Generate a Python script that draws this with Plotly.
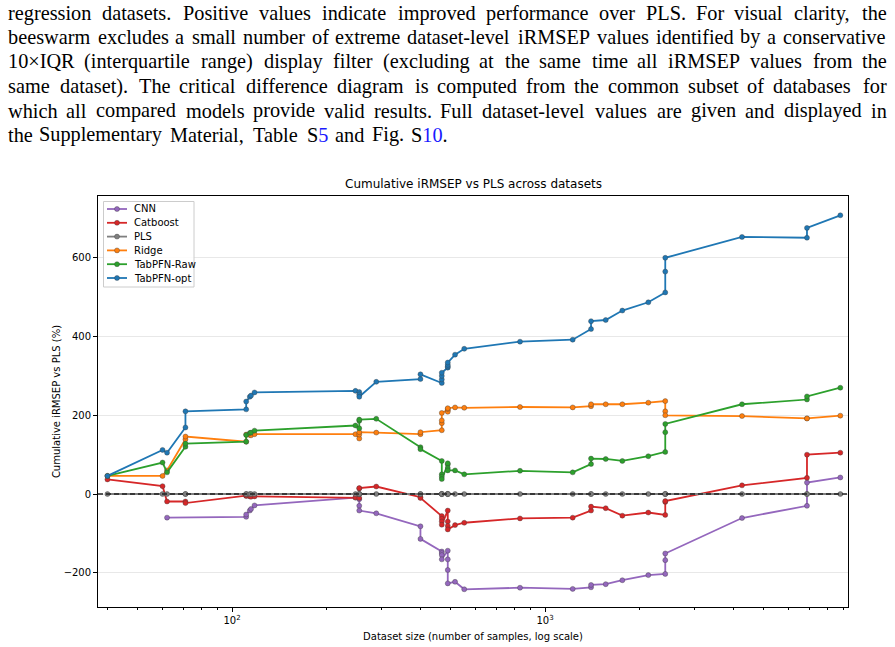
import plotly.graph_objects as go

# ---------------- data ----------------
sizes = [40, 60, 62, 71, 71, 111, 111, 114, 115, 118, 248, 255, 255, 255, 289,
         400, 400, 468, 468, 468, 468, 489, 489, 489, 489, 516, 552, 832, 1226,
         1403, 1403, 1563, 1766, 2138, 2422, 2422, 2422, 4260, 6870, 6870, 8780]

tabpfn_opt = [46, 112, 105, 169, 210, 215, 235, 247, 250, 258, 262, 259, 253, 247, 285,
              292, 304, 282, 291, 300, 308, 321, 324, 328, 334, 354, 369, 387, 392,
              419, 439, 442, 466, 487, 512, 565, 600, 653, 651, 676, 708]

tabpfn_raw = [46, 80, 55, 120, 128, 133, 150, 155, 156, 161, 174, 167, 186, 189, 191,
              119, 114, 84, 50, 44, 38, 75, 78, 66, 60, 60, 50, 59, 55,
              76, 90, 89, 84, 96, 107, 157, 178, 228, 240, 248, 270]

ridge = [46, 46, 60, 139, 146, 133, 151, 150, 149, 152, 152, 141, 151, 157, 156,
         152, 157, 162, 180, 187, 206, 213, 209, 216, 218, 220, 219, 221, 220,
         223, 228, 228, 228, 232, 236, 210, 200, 198, 192, 192, 199]

catboost = [37, 20, -19, -19, -23, -5, -4, -6, -7, -6, -9, -10, 14, 15, 19,
            -8, -10, -56, -63, -70, -78, -42, -70, -81, -90, -79, -73, -62, -60,
            -42, -32, -36, -55, -47, -53, -20, -18, 22, 41, 100, 105]

cnn = [None, None, -60, None, None, -58, -52, -42, -38, -29, -9, -13, -30, -42, -49,
       -82, -114, -146, -150, -155, -166, -144, -166, -193, -227, -223, -242, -238, -241,
       -237, -231, -229, -219, -206, -203, -168, -151, -61, -30, 29, 42]

pls = [0, 0, 0, 0, 0, 0, 0, 0, 0, 0, 0, 0, 0, 0, 0,
       0, 0, 0, 0, 0, 0, 0, 0, 0, 0, 0, 0, 0, 0,
       0, 0, 0, 0, 0, 0, 0, 0, 0, 0, 0, 0]

series_names = ["CNN", "Catboost", "PLS", "Ridge", "TabPFN-Raw", "TabPFN-opt"]
series_values = [cnn, catboost, pls, ridge, tabpfn_raw, tabpfn_opt]
series_colors = ["#9467bd", "#d62728", "#7f7f7f", "#ff7f0e", "#2ca02c", "#1f77b4"]

y_ticks = [-200, 0, 200, 400, 600]
y_tick_labels = ["\u2212200", "0", "200", "400", "600"]
x_ticks = [100, 1000]
x_tick_labels = ["10<sup>2</sup>", "10<sup>3</sup>"]
x_minor = [40, 50, 60, 70, 80, 90, 200, 300, 400, 500, 600, 700, 800, 900,
           2000, 3000, 4000, 5000, 6000, 7000, 8000, 9000]

caption_lines = [
    "regression datasets.  Positive values indicate improved performance over PLS. For visual clarity, the",
    "beeswarm excludes a small number of extreme dataset-level iRMSEP values identified by a conservative",
    "10\u00d7IQR (interquartile range) display filter (excluding at the same time all iRMSEP values from the",
    "same dataset). The critical difference diagram is computed from the common subset of databases for",
    "which all compared models provide valid results. Full dataset-level values are given and displayed in",
    "the Supplementary Material, Table S5 and Fig. S10.",
]

# ---------------- layout constants ----------------
W, H = 895, 647
ML, MR, MT, MB = 98, 47, 196, 40
PW = W - ML - MR
PH = H - MT - MB


def px_x(px):
    return (px - ML) / PW


def px_y(py):
    return (H - MB - py) / PH


fig = go.Figure()
for name, vals, col in zip(series_names, series_values, series_colors):
    fig.add_trace(go.Scatter(
        x=sizes, y=vals, name=name, mode="lines+markers", connectgaps=True,
        line=dict(color=col, width=1.8),
        marker=dict(size=5, color=col, line=dict(width=0.7, color="rgba(60,60,60,0.55)")),
        showlegend=False,
    ))

fig.add_shape(type="line", xref="x domain", x0=0, x1=1, yref="y", y0=0, y1=0,
              line=dict(color="#222222", width=1.5, dash="5px,3px"), layer="above")

axis_font = dict(family="DejaVu Sans", size=10, color="#000")
fig.update_xaxes(
    type="log", range=[1.5719, 3.968], automargin=False,
    tickvals=x_ticks, ticktext=x_tick_labels, ticks="outside", ticklen=4, tickwidth=0.8,
    tickcolor="#000", tickfont=axis_font,
    showline=True, mirror=True, linecolor="#000", linewidth=0.8,
    showgrid=False, zeroline=False,
    minor=dict(tickvals=x_minor, ticks="outside", ticklen=2, tickwidth=0.6,
               tickcolor="#000", showgrid=False),
    title=dict(text="Dataset size (number of samples, log scale)", font=axis_font, standoff=8),
)
fig.update_yaxes(
    range=[-287, 757], tickvals=y_ticks, ticktext=y_tick_labels, automargin=False,
    ticks="outside", ticklen=4, tickwidth=0.8, tickcolor="#000", tickfont=axis_font,
    showline=True, mirror=True, linecolor="#000", linewidth=0.8,
    showgrid=True, gridcolor="rgba(0,0,0,0.09)", gridwidth=0.8, zeroline=False,
    title=dict(text="Cumulative iRMSEP vs PLS (%)", font=axis_font, standoff=1),
)

fig.add_annotation(text="Cumulative iRMSEP vs PLS across datasets", xref="paper", yref="paper",
                   x=0.5, y=1, yanchor="bottom", yshift=3, showarrow=False,
                   font=dict(family="DejaVu Sans", size=12, color="#000"))

# ---------------- legend (drawn like the matplotlib one) ----------------
fig.add_shape(type="rect", xref="paper", yref="paper",
              x0=px_x(103.5), x1=px_x(194), y0=px_y(287), y1=px_y(201.5),
              line=dict(color="#cccccc", width=1), fillcolor="rgba(255,255,255,0.85)",
              layer="above")
leg_y0, leg_dy = 209, 13.8
for i, (name, col) in enumerate(zip(series_names, series_colors)):
    yy = px_y(leg_y0 + i * leg_dy)
    fig.add_shape(type="line", xref="paper", yref="paper", x0=px_x(107), x1=px_x(127),
                  y0=yy, y1=yy, line=dict(color=col, width=1.8), layer="above")
    fig.add_shape(type="circle", xref="paper", yref="paper", xsizemode="pixel",
                  ysizemode="pixel", xanchor=px_x(117), yanchor=yy,
                  x0=-2.5, x1=2.5, y0=-2.5, y1=2.5, fillcolor=col,
                  line=dict(color="rgba(60,60,60,0.55)", width=0.7), layer="above")
    fig.add_annotation(text=name, xref="paper", yref="paper", x=px_x(132.5), y=yy,
                       xanchor="left", yanchor="middle", showarrow=False, borderpad=0,
                       font=dict(family="DejaVu Sans", size=10, color="#000"))

# ---------------- caption text (justified, word by word) ----------------
tw_table = {}
for chars, w in [("abdghknopquvxy0123456789", 500), ("ce", 444), ("fr-()", 333),
                 ("ijlt", 278), ("m", 778), ("s", 389), ("w", 722), ("z", 444),
                 ("ADGHKNOQUVXY", 722), ("BCR", 667), ("ELTZ", 611), ("FPS", 556),
                 ("I", 333), ("J", 389), ("M", 889), ("W", 944), ("\u00d7", 564)]:
    for ch in chars:
        tw_table[ch] = w
tw_table[" "] = 250
tw_table["."] = 250
tw_table[","] = 250

FS = 20.3


def text_w(s):
    return sum(tw_table.get(ch, 500) for ch in s) / 1000.0 * FS


line_y = [13, 37, 61.5, 86, 110.5, 134.5]
LEFT, RIGHT = 8, 887
for i, line in enumerate(caption_lines):
    words = [w for w in line.split(" ") if w]
    total = sum(text_w(w) for w in words)
    last = (i == len(caption_lines) - 1)
    if last:
        gap = text_w(" ") * 1.3
    else:
        gap = max(3.5, (RIGHT - LEFT - total) / (len(words) - 1))
    x = LEFT
    for w in words:
        disp = w
        if w == "S5":
            disp = "S<span style='color:#1a1aff'>5</span>"
        elif w == "S10.":
            disp = "S<span style='color:#1a1aff'>10</span>."
        fig.add_annotation(text=disp, xref="paper", yref="paper",
                           x=px_x(x), y=px_y(line_y[i]),
                           xanchor="left", yanchor="middle", showarrow=False,
                           borderpad=0, xshift=-1,
                           font=dict(family="Liberation Serif", size=FS, color="#000"))
        x += text_w(w) + gap

fig.update_layout(
    width=W, height=H, margin=dict(l=ML, r=MR, t=MT, b=MB, autoexpand=False),
    paper_bgcolor="white", plot_bgcolor="white",
    font=dict(family="DejaVu Sans", size=10, color="#000"),
    showlegend=False,
)

fig.write_html("out.html")
